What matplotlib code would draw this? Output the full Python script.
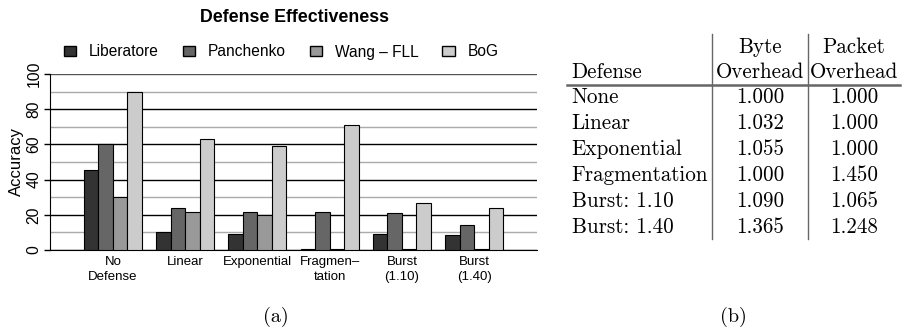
import matplotlib
matplotlib.use("Agg")
import matplotlib.pyplot as plt
from matplotlib.lines import Line2D
import numpy as np

# ---- chart data -------------------------------------------------------
categories = ["No\nDefense", "Linear", "Exponential", "Fragmen\u2013\ntation",
              "Burst\n(1.10)", "Burst\n(1.40)"]
series_names = ["Liberatore", "Panchenko", "Wang \u2013 FLL", "BoG"]
liberatore = [45.5, 10.2, 9.0, 0.5, 9.0, 8.5]
panchenko = [60.0, 23.7, 21.8, 21.4, 21.0, 14.4]
wang_fll = [30.0, 21.8, 19.8, 0.3, 0.3, 0.3]
bog = [89.6, 62.9, 59.0, 71.0, 26.7, 23.9]
series_colors = ["#333333", "#666666", "#999999", "#cccccc"]

# ---- table data -------------------------------------------------------
table_defenses = ["None", "Linear", "Exponential", "Fragmentation",
                  "Burst: 1.10", "Burst: 1.40"]
byte_overhead = ["1.000", "1.032", "1.055", "1.000", "1.090", "1.365"]
packet_overhead = ["1.000", "1.000", "1.000", "1.450", "1.065", "1.248"]

W, H = 902, 333
fig = plt.figure(figsize=(W / 100, H / 100), dpi=100)
sans = "Liberation Sans"
serif = "cmr10"

def fx(px):
    return px / W

def fy(py):
    return 1 - py / H

# ---- bar chart --------------------------------------------------------
ax = fig.add_axes([fx(50), fy(250), fx(537) - fx(50), fy(74) - fy(250)])
x = np.arange(len(categories))
bw = 0.2
all_series = [liberatore, panchenko, wang_fll, bog]
handles = []
for i, (vals, name, col) in enumerate(zip(all_series, series_names, series_colors)):
    b = ax.bar(x + (i - 1.5) * bw, vals, width=bw, color=col,
               edgecolor="black", linewidth=0.8, label=name, zorder=3)
    handles.append(b)

ax.set_xlim(-0.87, len(categories) - 1 + 0.87)
ax.set_ylim(0, 100)
ax.set_yticks(np.arange(0, 101, 20))
ax.set_yticks(np.arange(10, 100, 20), minor=True)
ax.yaxis.grid(True, which="major", color="black", linewidth=1.0, zorder=0)
ax.yaxis.grid(True, which="minor", color="#aaaaaa", linewidth=1.0, zorder=0)
ax.get_ygridlines()[-1].set_color("#555555")
ax.tick_params(axis="y", which="minor", length=0)
ax.tick_params(axis="y", which="major", length=4, width=1, pad=2)
ax.set_yticklabels([str(v) for v in range(0, 101, 20)], rotation=90,
                   va="center", fontsize=11.3, family=sans)
ax.set_xticks(x)
ax.set_xticklabels(categories, fontsize=9.5, family=sans, linespacing=1.35)
ax.tick_params(axis="x", length=0, pad=4)
for s in ["top", "right"]:
    ax.spines[s].set_visible(False)
ax.spines["left"].set_color("black")
ax.spines["bottom"].set_color("black")
ax.set_ylabel("Accuracy", fontsize=12, family=sans, labelpad=2)

fig.text(fx(294), fy(18), "Defense Effectiveness", ha="center", va="center",
         fontsize=12.8, fontweight="bold", family=sans)

leg = fig.legend(handles=handles, labels=series_names, ncol=4,
                 loc="center", bbox_to_anchor=(fx(281), fy(52)),
                 frameon=False, prop={"family": sans, "size": 11.2},
                 handlelength=0.8, handleheight=0.55, handletextpad=0.8,
                 columnspacing=1.55, borderaxespad=0)
for p in leg.get_patches():
    p.set_linewidth(1.0)

fig.text(fx(276), fy(317), "(a)", ha="center", va="center",
         fontsize=14.5, family=serif)

# ---- overhead table ---------------------------------------------------
tsize = 15.2
left_x = 571.5
col1_x, col2_x = 760, 854
vline1, vline2 = 711.7, 808
fig.add_artist(Line2D([fx(vline1)] * 2, [fy(34), fy(239)], color="#666666",
                      linewidth=1.0, transform=fig.transFigure))
fig.add_artist(Line2D([fx(vline2)] * 2, [fy(34), fy(239)], color="#666666",
                      linewidth=1.0, transform=fig.transFigure))
fig.add_artist(Line2D([fx(567), fx(900)], [fy(85)] * 2, color="#666666",
                      linewidth=1.8, transform=fig.transFigure))

fig.text(fx(col1_x), fy(47), "Byte", ha="center", va="center",
         fontsize=tsize, family=serif)
fig.text(fx(col2_x), fy(47), "Packet", ha="center", va="center",
         fontsize=tsize, family=serif)
fig.text(fx(left_x), fy(72), "Defense", ha="left", va="center",
         fontsize=tsize, family=serif)
fig.text(fx(col1_x), fy(72), "Overhead", ha="center", va="center",
         fontsize=tsize, family=serif)
fig.text(fx(col2_x), fy(72), "Overhead", ha="center", va="center",
         fontsize=tsize, family=serif)

row0, row_step = 97.5, 25.9
for i, (d, b, p) in enumerate(zip(table_defenses, byte_overhead, packet_overhead)):
    yy = fy(row0 + i * row_step)
    fig.text(fx(left_x), yy, d, ha="left", va="center", fontsize=tsize, family=serif)
    fig.text(fx(col1_x), yy, b, ha="center", va="center", fontsize=tsize, family=serif)
    fig.text(fx(col2_x), yy, p, ha="center", va="center", fontsize=tsize, family=serif)

fig.text(fx(733), fy(317), "(b)", ha="center", va="center",
         fontsize=14.5, family=serif)

fig.savefig("out.png", dpi=100)
